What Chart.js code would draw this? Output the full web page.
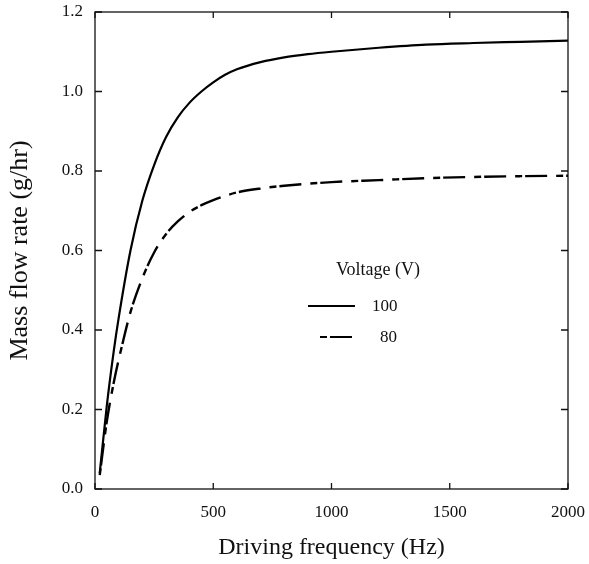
<!DOCTYPE html>
<html>
<head>
<meta charset="utf-8">
<script src="https://cdn.jsdelivr.net/npm/chart.js@4"></script>
<style>
  html, body { margin: 0; padding: 0; background: #fff; }
  #wrap { width: 589px; height: 564px; }
</style>
</head>
<body>
<div id="wrap"><canvas id="flowChart" width="589" height="564"></canvas></div>
<script>
// frequencies (Hz) and mass flow (g/hr)
const freq100 = [20, 50, 80, 100, 150, 200, 250, 300, 350, 400, 450, 500, 550, 600, 700, 800, 900, 1000, 1200, 1400, 1600, 1800, 2000];
const flow100 = [0.04, 0.21, 0.35, 0.43, 0.60, 0.725, 0.815, 0.885, 0.935, 0.972, 1.0, 1.023, 1.042, 1.056, 1.074, 1.086, 1.094, 1.10, 1.11, 1.118, 1.122, 1.125, 1.128];

const freq80 = [20, 50, 80, 120, 150, 200, 250, 300, 350, 400, 450, 500, 600, 700, 800, 1000, 1200, 1400, 1600, 1800, 2000];
const flow80 = [0.035, 0.17, 0.27, 0.375, 0.445, 0.53, 0.595, 0.641, 0.673, 0.697, 0.714, 0.727, 0.746, 0.756, 0.763, 0.772, 0.777, 0.782, 0.785, 0.787, 0.788];

const xTicks = [0, 500, 1000, 1500, 2000];
const yTicks = [0.0, 0.2, 0.4, 0.6, 0.8, 1.0, 1.2];
const legendTitle = "Voltage (V)";
const seriesNames = ["100", "80"];

const serif = "'Liberation Serif', 'Times New Roman', serif";
const dashPattern = [7, 3, 22, 9];

function toPoints(xs, ys) {
    return xs.map((x, i) => ({ x: x, y: ys[i] }));
}

// don't let tick labels push the plot area in, the frame positions are fixed by layout padding
function noOverhang(scale) {
    scale.paddingLeft = 0;
    scale.paddingRight = 0;
    scale.paddingTop = 0;
    scale.paddingBottom = 0;
}

// frame box + inward ticks on all four sides, plus the in-plot legend
const framePlugin = {
    id: 'frame',
    afterDraw(chart) {
        const ctx = chart.ctx;
        const a = chart.chartArea;
        const xs = chart.scales.x;
        const ys = chart.scales.y;
        ctx.save();
        ctx.strokeStyle = '#111';
        ctx.lineWidth = 1.3;
        ctx.strokeRect(a.left, a.top, a.right - a.left, a.bottom - a.top);
        ctx.beginPath();
        xTicks.forEach(v => {
            const px = xs.getPixelForValue(v);
            ctx.moveTo(px, a.bottom); ctx.lineTo(px, a.bottom - 6);
            ctx.moveTo(px, a.top); ctx.lineTo(px, a.top + 6);
        });
        yTicks.forEach(v => {
            const py = ys.getPixelForValue(v);
            ctx.moveTo(a.left, py); ctx.lineTo(a.left + 7, py);
            ctx.moveTo(a.right, py); ctx.lineTo(a.right - 7, py);
        });
        ctx.stroke();

        // legend
        ctx.fillStyle = '#111';
        ctx.font = "18px " + serif;
        ctx.textAlign = 'center';
        ctx.textBaseline = 'middle';
        ctx.fillText(legendTitle, 378, 270);
        ctx.font = "17px " + serif;
        ctx.textAlign = 'left';
        ctx.fillText(seriesNames[0], 372, 307);
        ctx.fillText(seriesNames[1], 380, 338);

        ctx.strokeStyle = '#000';
        ctx.lineWidth = 2;
        ctx.beginPath();
        ctx.moveTo(308, 306); ctx.lineTo(355, 306);
        ctx.stroke();
        ctx.setLineDash(dashPattern);
        ctx.beginPath();
        ctx.moveTo(320, 337); ctx.lineTo(356, 337);
        ctx.stroke();
        ctx.restore();
    }
};

const ctx = document.getElementById('flowChart').getContext('2d');
const chart = new Chart(ctx, {
    type: 'line',
    data: {
        datasets: [
            {
                label: seriesNames[0],
                data: toPoints(freq100, flow100),
                borderColor: '#000',
                borderWidth: 2.2,
                pointRadius: 0,
                fill: false,
                cubicInterpolationMode: 'monotone'
            },
            {
                label: seriesNames[1],
                data: toPoints(freq80, flow80),
                borderColor: '#000',
                borderWidth: 2.4,
                borderDash: dashPattern,
                pointRadius: 0,
                fill: false,
                cubicInterpolationMode: 'monotone'
            }
        ]
    },
    options: {
        responsive: false,
        animation: false,
        layout: { padding: { left: 0, top: 12, right: 21, bottom: 0 } },
        plugins: {
            legend: { display: false },
            tooltip: { enabled: false }
        },
        scales: {
            x: {
                type: 'linear',
                min: 0,
                max: 2000,
                grid: { display: false, drawTicks: false },
                border: { display: false },
                afterBuildTicks: scale => { scale.ticks = xTicks.map(v => ({ value: v })); },
                ticks: {
                    padding: 13,
                    color: '#111',
                    font: { family: serif, size: 17 },
                    maxRotation: 0,
                    callback: v => String(v)
                },
                title: {
                    display: true,
                    text: 'Driving frequency (Hz)',
                    color: '#111',
                    font: { family: serif, size: 24 },
                    padding: { top: 0, bottom: 2 }
                },
                afterFit: scale => { scale.height = 75; noOverhang(scale); }
            },
            y: {
                type: 'linear',
                min: 0,
                max: 1.2,
                grid: { display: false, drawTicks: false },
                border: { display: false },
                afterBuildTicks: scale => { scale.ticks = yTicks.map(v => ({ value: v })); },
                ticks: {
                    padding: 12,
                    color: '#111',
                    font: { family: serif, size: 17 },
                    callback: v => Number(v).toFixed(1)
                },
                title: {
                    display: true,
                    text: 'Mass flow rate (g/hr)',
                    color: '#111',
                    font: { family: serif, size: 26 },
                    padding: { top: 5, bottom: 0 }
                },
                afterFit: scale => { scale.width = 95; noOverhang(scale); }
            }
        }
    },
    plugins: [framePlugin]
});
</script>
</body>
</html>
